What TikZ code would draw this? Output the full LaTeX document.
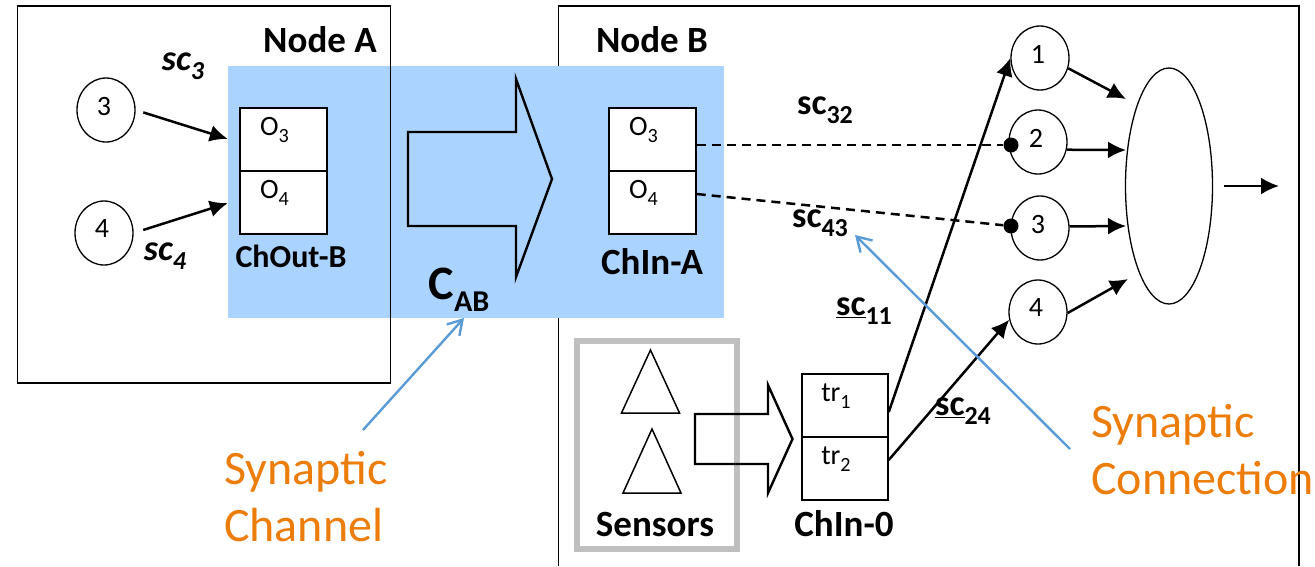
\documentclass[tikz,border=0pt]{standalone}
\usepackage{fontspec}
\setmainfont{Carlito}
\usetikzlibrary{arrows.meta,shapes.geometric}
\definecolor{chanBlue}{HTML}{ABD3FF}
\definecolor{lineBlue}{HTML}{5B9BD5}
\definecolor{noteOrange}{HTML}{ED7D0A}
\definecolor{frameGray}{HTML}{BFBFBF}
\newcommand{\lowIdx}[1]{\raisebox{-.25em}{\scalebox{.72}{#1}}}
\newcommand{\nudged}[1]{\raisebox{8pt}{#1\hspace{4pt}}}
\newcommand{\cellText}[1]{\raisebox{14pt}{#1\hspace{18pt}}}
\begin{document}
\begin{tikzpicture}[x=1pt,y=-1pt,
  neuron/.style={ellipse, draw, line width=1.3pt, minimum width=58pt, minimum height=64pt, inner sep=0pt, font=\fontsize{28}{28}\selectfont},
  cell/.style={rectangle, draw, line width=1.5pt, fill=white, minimum width=87pt, minimum height=63pt, inner sep=0pt, text height=20pt, font=\fontsize{28}{28}\selectfont},
  synDot/.style={circle, fill=black, minimum size=15pt, inner sep=0pt},
  sensor/.style={line width=1.5pt},
  bigArrow/.style={line width=2.4pt, miter limit=20},
  synArrow/.style={line width=2.5pt, -{Latex[length=18pt,width=17pt]}},
  synDash/.style={line width=2.5pt, dash pattern=on 9pt off 6pt},
  noteArrow/.style={lineBlue, line width=2.4pt, -{Straight Barb[length=14pt,width=17pt,line width=2.4pt]}},
  title/.style={font=\fontsize{37}{37}\selectfont\bfseries},
  chLabel/.style={font=\fontsize{37}{37}\selectfont\bfseries},
  scLabel/.style={font=\fontsize{36}{36}\selectfont\bfseries},
  note/.style={text=noteOrange, align=left, font=\fontsize{48}{57}\selectfont}
]
\useasboundingbox (0,0) rectangle (1315,566);
% node B first, the channel covers its edge
\draw[line width=1.5pt] (558.5,566)--(558.5,6)--(1299,6)--(1299,566);
\fill[chanBlue] (228,66) rectangle (724,318);
\node[draw, line width=1.5pt, minimum width=373pt, minimum height=377pt, inner sep=0pt] (nodeA) at (204,194.5) {};
\node[title] (titleA) at (320,40) {Node A};
\node[title] (titleB) at (652,40) {Node B};

% node A
\node[neuron] (a3) at (106,110) {\nudged{3}};
\node[neuron] (a4) at (104,233) {\nudged{4}};
\node[cell] (outO3) at (283.5,139.5) {\cellText{O\lowIdx{3}}};
\node[cell] (outO4) at (283.5,202.5) {\cellText{O\lowIdx{4}}};
\node[scLabel] (sc3) at (183,66) {\textit{sc\lowIdx{3}}};
\node[scLabel] (sc4) at (165,256) {\textit{sc\lowIdx{4}}};
\node[chLabel, font=\fontsize{32}{32}\selectfont\bfseries] (chOut) at (291,256) {ChOut-B};
\draw[synArrow, shorten <=8pt, shorten >=12pt] (a3.east) -- ([yshift=-3pt]outO3.west);
\draw[synArrow, shorten <=10pt, shorten >=12pt] (a4.east) -- ([yshift=3pt]outO4.west);

% channel
\draw[bigArrow] (408,132)--(516,132)--(516,79)--(552,179)--(516,277)--(516,226)--(408,226)--cycle;
\node[font=\fontsize{48}{48}\selectfont\bfseries] (cab) at (459,290) {C\lowIdx{\fontsize{42}{42}\selectfont AB}};

% node B inputs
\node[cell] (inO3) at (652.5,139.5) {\cellText{O\lowIdx{3}}};
\node[cell] (inO4) at (652.5,202.5) {\cellText{O\lowIdx{4}}};
\node[chLabel] (chIn) at (652,262) {ChIn-A};

% neurons
\node[neuron] (n1) at (1040,58) {\nudged{1}};
\node[neuron] (n2) at (1038,142) {\nudged{2}};
\node[neuron] (n3) at (1040,228) {\nudged{3}};
\node[neuron] (n4) at (1038,312) {\nudged{4}};
\node[ellipse, draw, line width=1.3pt, minimum width=87pt, minimum height=236pt, inner sep=0pt] (soma) at (1169,186) {};
\coordinate (somaIn1) at (1126,99);
\coordinate (somaIn2) at (1126,150);
\coordinate (somaIn3) at (1126,226);
\coordinate (somaIn4) at (1128,279);
\coordinate (somaOut) at (1279,186);
\draw[synArrow] (n1.-20) -- (somaIn1);
\draw[synArrow] (n2.-15) -- (somaIn2);
\draw[synArrow] (n3.3) -- (somaIn3);
\draw[synArrow] (n4.-2) -- (somaIn4);
\draw[synArrow, shorten <=11pt] (soma.east) -- (somaOut);

\node[synDot] (dot2) at (1011,145) {};
\node[synDot] (dot3) at (1011,226) {};
\draw[synDash] ([yshift=-5.5pt]inO3.east) -- (dot2);
\draw[synDash] ([yshift=8.5pt]inO4.east) -- (dot3);
\node[scLabel] (sc32) at (825,110) {sc\lowIdx{32}};
\node[scLabel] (sc43) at (820,223) {sc\lowIdx{43}};

% sensors
\draw[frameGray, line width=6pt] (577,341) rectangle (737,549);
\draw[sensor] (650.5,350)--(679.5,413)--(621.5,413)--cycle;
\draw[sensor] (652,429)--(681,493)--(623,493)--cycle;
\node[chLabel] (sensors) at (655,524) {Sensors};
\draw[bigArrow] (695,414)--(768,414)--(768,385)--(792.5,439)--(768,493)--(768,464)--(695,464)--cycle;
\node[cell, minimum width=86pt] (tr1) at (845,405.5) {\cellText{tr\lowIdx{1}}};
\node[cell, minimum width=86pt] (tr2) at (845,468.5) {\cellText{tr\lowIdx{2}}};
\node[chLabel] (chZero) at (844,524) {ChIn-0};
\draw[synArrow] ([yshift=-6.5pt]tr1.east) -- (n1.west);
\draw[synArrow] ([yshift=8.5pt]tr2.east) -- (n4.195);
\node[scLabel] (sc11) at (864,311) {\underline{sc}\lowIdx{11}};
\node[scLabel] (sc24) at (963,411) {\underline{sc}\lowIdx{24}};

% notes
\node[note, anchor=north west, inner sep=0pt] (noteChan) at (224,451) {Synaptic\\Channel};
\node[note, anchor=north west, inner sep=0pt] (noteConn) at (1091,404) {Synaptic\\Connection};
\coordinate (chanTail) at (363,430);
\coordinate (chanTip) at (464,318);
\coordinate (connTail) at (1070,449);
\coordinate (connTip) at (855,235);
\draw[noteArrow] (chanTail) -- (chanTip);
\draw[noteArrow] (connTail) -- (connTip);
\end{tikzpicture}
\end{document}
